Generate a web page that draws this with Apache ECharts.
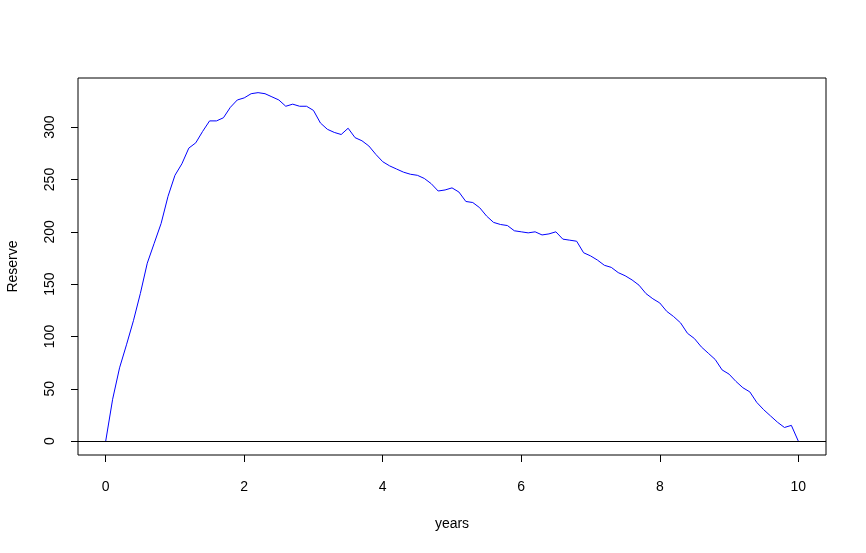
<!DOCTYPE html>
<html>
<head>
    <meta charset="utf-8" />
    <style>html,body{margin:0;padding:0;background:#fff}#chart{width:866px;height:553px;}</style>
</head>
<body>
<div id="chart"></div>
<script src="https://cdn.jsdelivr.net/npm/echarts@6/dist/echarts.min.js"></script>
<script>
    // reserve path, one value per 0.1 year
    var years = [];
    for (var i = 0; i <= 100; i++) { years.push(+(i / 10).toFixed(1)); }
    var reserve = [
        0, 40, 70, 92, 115, 141, 170, 189, 208, 234,
        254, 265, 280, 285, 296, 306, 306, 309, 319, 326,
        328, 332, 333, 332, 329, 326, 320, 322, 320, 320,
        316, 304, 298, 295, 293, 299, 290, 287, 282, 274,
        267, 263, 260, 257, 255, 254, 251, 246, 239, 240,
        242, 238, 229, 228, 223, 215, 209, 207, 206, 201,
        200, 199, 200, 197, 198, 200, 193, 192, 191, 180,
        177, 173, 168, 166, 161, 158, 154, 149, 141, 136,
        132, 124, 119, 113, 103, 98, 90, 84, 78, 68,
        64, 57, 51, 47, 37, 30, 24, 18, 13, 15,
        0
    ];
    var xTicks = [0, 2, 4, 6, 8, 10];
    var yTicks = [0, 50, 100, 150, 200, 250, 300];

    var points = years.map(function (t, k) { return [t, reserve[k]]; });
    var font = 'Liberation Sans, Arial, sans-serif';

    var myChart = echarts.init(document.getElementById('chart'));
    myChart.setOption({
        animation: false,
        grid: {
            left: 78, right: 40, top: 78, bottom: 98,
            outerBoundsMode: 'none',
            show: true, borderColor: '#000', borderWidth: 1, backgroundColor: 'transparent'
        },
        xAxis: {
            type: 'value',
            min: -0.4, max: 10.4,
            name: 'years', nameLocation: 'middle', nameGap: 62,
            nameTextStyle: {color: '#000', fontFamily: font, fontSize: 14},
            axisLine: {show: false, onZero: false},
            axisTick: {show: true, length: 7, lineStyle: {color: '#000'}, customValues: xTicks},
            axisLabel: {color: '#000', fontFamily: font, fontSize: 14, margin: 25, customValues: xTicks},
            splitLine: {show: false}
        },
        yAxis: {
            type: 'value',
            min: -13.3, max: 347,
            name: 'Reserve', nameLocation: 'middle', nameGap: 58,
            nameTextStyle: {color: '#000', fontFamily: font, fontSize: 14},
            axisLine: {show: false, onZero: false},
            axisTick: {show: true, length: 7, lineStyle: {color: '#000'}, customValues: yTicks},
            axisLabel: {color: '#000', fontFamily: font, fontSize: 14, margin: 21, rotate: 90, customValues: yTicks},
            splitLine: {show: false}
        },
        series: [{
            type: 'line',
            data: points,
            showSymbol: false,
            lineStyle: {color: '#0000ff', width: 1},
            markLine: {
                silent: true,
                symbol: 'none',
                label: {show: false},
                lineStyle: {color: '#000', width: 1, type: 'solid'},
                data: [{yAxis: 0}]
            }
        }]
    });
</script>
</body>
</html>
